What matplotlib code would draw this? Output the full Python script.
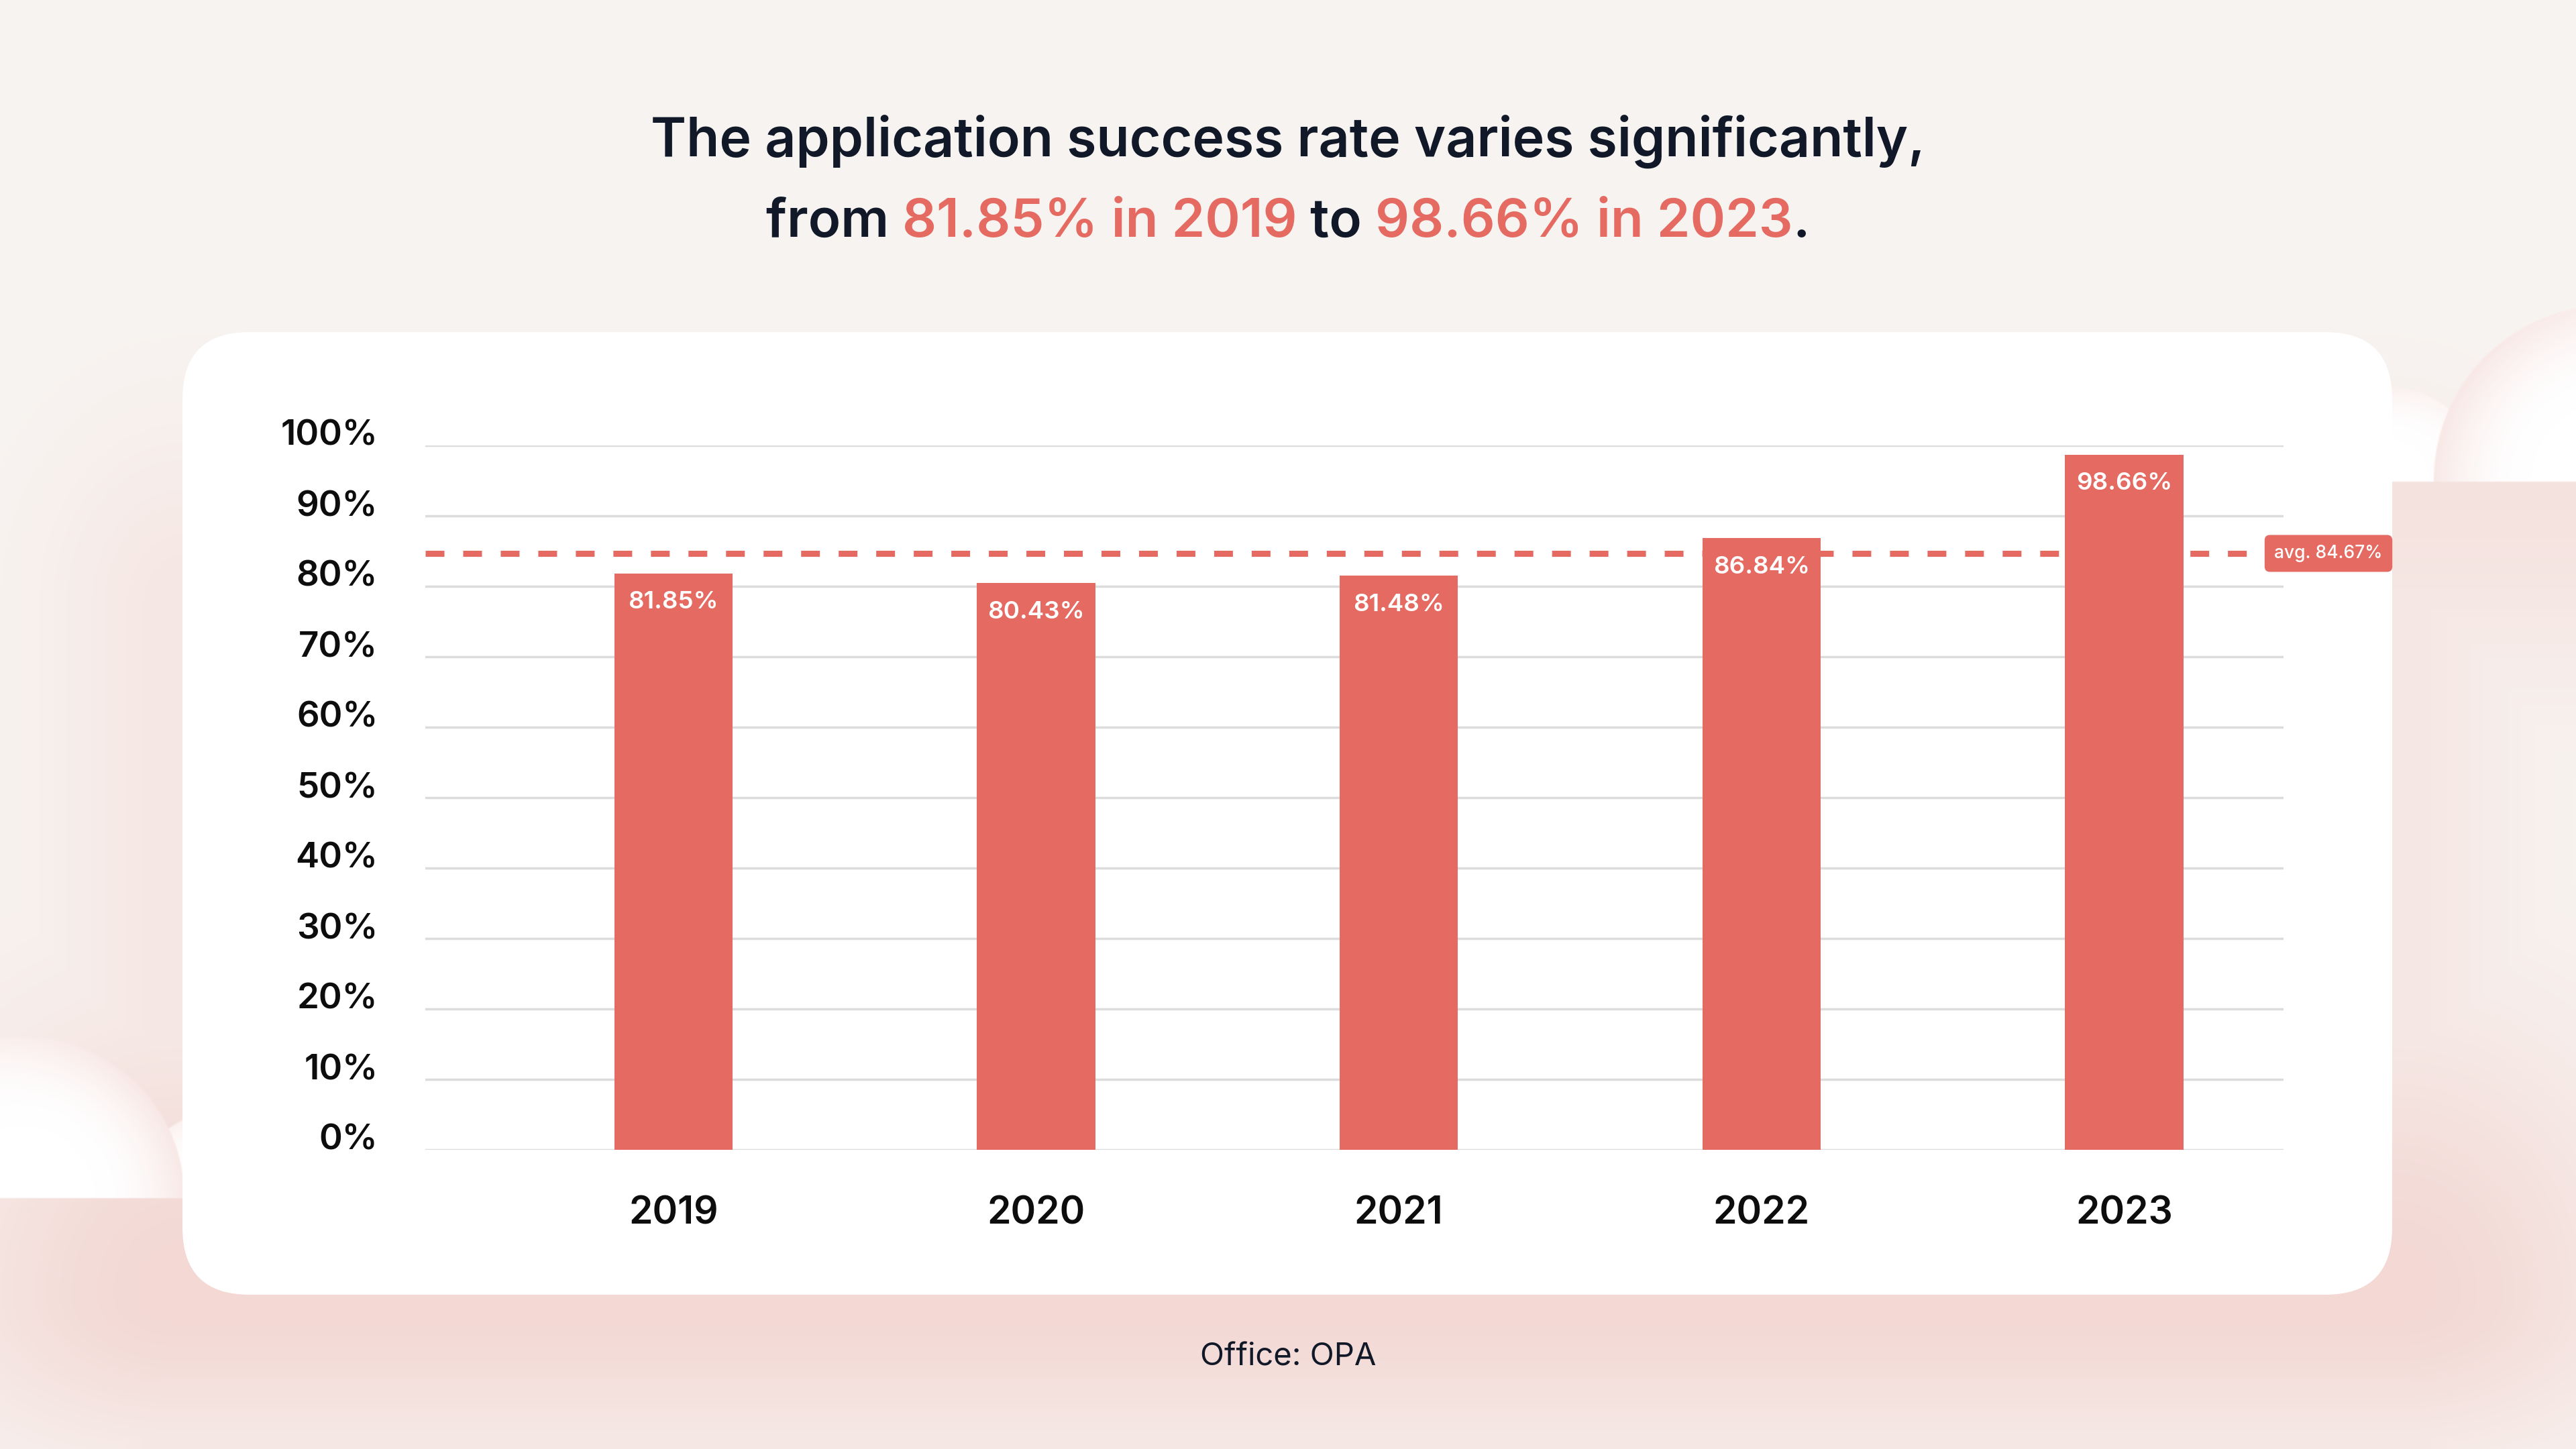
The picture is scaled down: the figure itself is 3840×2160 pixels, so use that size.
import numpy as np
import matplotlib
matplotlib.use("Agg")
import matplotlib.pyplot as plt
from matplotlib.patches import FancyBboxPatch
from matplotlib.transforms import blended_transform_factory

# data
years = ["2019", "2020", "2021", "2022", "2023"]
success_rate = [81.85, 80.43, 81.48, 86.84, 98.66]
average_rate = 84.67
y_ticks = [0, 10, 20, 30, 40, 50, 60, 70, 80, 90, 100]
title_line1 = "The application success rate varies significantly,"
title_line2 = ["from ", "81.85% in 2019", " to ", "98.66% in 2023", "."]
title_line2_hl = [False, True, False, True, False]
source_text = "Office: OPA"

W, H = 3840, 2160
DARK = "#111827"
CORAL = "#E46A62"
FONT = ["Inter", "DejaVu Sans"]
plt.rcParams["font.family"] = FONT

fig = plt.figure(figsize=(W / 100, H / 100), dpi=100)

# ---- background (pixel coords)
bg = fig.add_axes([0, 0, 1, 1])
bg.set_xlim(0, W)
bg.set_ylim(H, 0)
bg.axis("off")

xs = np.arange(0, W, 2) + 1.0
ys = np.arange(0, H, 2) + 1.0
X, Y = np.meshgrid(xs, ys)
cream = np.array([248, 244, 241]) / 255
pink = np.array([243, 216, 212]) / 255
white = np.array([1.0, 1.0, 1.0])

dx = np.maximum(np.maximum(272 - X, 0), X - 3566)
# soft glow along the card sides
w_side = 0.45 * np.exp(-(dx / 200) ** 2) * np.exp(-(np.maximum(900 - Y, 0) / 250) ** 2)
# stronger glow under the card
sy = np.where(Y > 1930, 230, 420)
w_bot = np.exp(-((Y - 1930) / sy) ** 2) * np.exp(-(dx / 380) ** 2)
# pink under the right cloud
w_right = 0.62 * (X > 3566) * (Y > 717) * np.exp(-(np.maximum(Y - 717, 0) / 300) ** 2)
w = np.maximum(np.maximum(w_side, w_bot), w_right)
img = cream[None, None, :] * (1 - w[..., None]) + pink[None, None, :] * w[..., None]


def add_cloud(img, cx, cy, r, base_y, toward, strength):
    d = np.hypot(X - cx, Y - cy)
    t = np.clip(d / r, 0, 1)
    ang = np.arctan2(Y - cy, X - cx)
    facing = 0.5 + 0.5 * np.cos(ang - toward)
    rim = strength * np.clip((t - 0.45) / 0.55, 0, 1) ** 2 * facing
    col = white[None, None, :] * (1 - rim[..., None]) + pink[None, None, :] * rim[..., None]
    alpha = np.clip((r - d) / 2 + 0.5, 0, 1) * (Y <= base_y)
    return img * (1 - alpha[..., None]) + col * alpha[..., None]


img = add_cloud(img, 3560, 717, 140, 717, -2.4, 0.45)
img = add_cloud(img, 3890, 717, 262, 717, -2.69, 0.6)
img = add_cloud(img, 330, 1786, 130, 1786, -1.2, 0.45)
img = add_cloud(img, 35, 1786, 240, 1786, -0.49, 0.6)

bg.imshow(np.clip(img, 0, 1), extent=[0, W, H, 0], interpolation="bilinear", zorder=0)

card = FancyBboxPatch((272, 495), 3566 - 272, 1930 - 495,
                      boxstyle="round,pad=0,rounding_size=100",
                      fc="white", ec="none", zorder=1)
bg.add_patch(card)

# title
bg.text(W / 2, 233, title_line1, ha="center", va="baseline", fontsize=58,
        fontweight="semibold", color=DARK, zorder=2)
renderer = fig.canvas.get_renderer()
parts = []
for s, hl in zip(title_line2, title_line2_hl):
    parts.append(bg.text(0, 353, s, ha="left", va="baseline", fontsize=57.5,
                         fontweight="semibold", color=CORAL if hl else DARK, zorder=2))
widths = [p.get_window_extent(renderer).width for p in parts]
x0 = W / 2 - sum(widths) / 2
for p, wd in zip(parts, widths):
    p.set_x(x0)
    x0 += wd

bg.text(W / 2, 2024, source_text, ha="center", va="center", fontsize=34,
        color=DARK, zorder=2)

# ---- chart
ax = fig.add_axes([634 / W, 1 - 1714 / H, (3404 - 634) / W, (1714 - 664) / H])
ax.patch.set_alpha(0)
x = np.arange(len(years))
bars = ax.bar(x, success_rate, width=0.326, color=CORAL, zorder=3)
ax.set_xlim(-0.684, 4.439)
ax.set_ylim(0, 100)
ax.set_yticks(y_ticks)
ax.set_yticklabels([f"{v}%" for v in y_ticks])
ax.set_xticks(x)
ax.set_xticklabels(years)
ax.yaxis.grid(True, color="#DCDCDC", lw=2.5, zorder=0)
ax.set_axisbelow(True)
for s in ax.spines.values():
    s.set_visible(False)
ax.tick_params(axis="y", length=0, pad=51, labelsize=38, labelcolor="#0d0d0d")
ax.tick_params(axis="x", length=0, pad=49, labelsize=41, labelcolor="#0d0d0d")
for lab in ax.get_xticklabels() + ax.get_yticklabels():
    lab.set_fontweight("semibold")
for lab in ax.get_yticklabels():
    lab.set_verticalalignment("baseline")

for xi, v in zip(x, success_rate):
    ax.annotate(f"{v:.2f}%", (xi, v), xytext=(0, -19), textcoords="offset points",
                ha="center", va="top", color="white", fontsize=26.5,
                fontweight="semibold", zorder=6)

ax.axhline(average_rate, xmin=0, xmax=0.988, color=CORAL, lw=6.5,
           dashes=(3.1, 3.1), zorder=4)
trans = blended_transform_factory(ax.transAxes, ax.transData)
ax.text(1.0242, average_rate, f"avg. {average_rate:.2f}%", transform=trans,
        ha="center", va="center", color="white", fontsize=19, fontweight="medium",
        clip_on=False, zorder=5,
        bbox=dict(boxstyle="round,pad=0.55,rounding_size=0.3", fc=CORAL, ec="none"))

fig.savefig("out.png", dpi=100)
